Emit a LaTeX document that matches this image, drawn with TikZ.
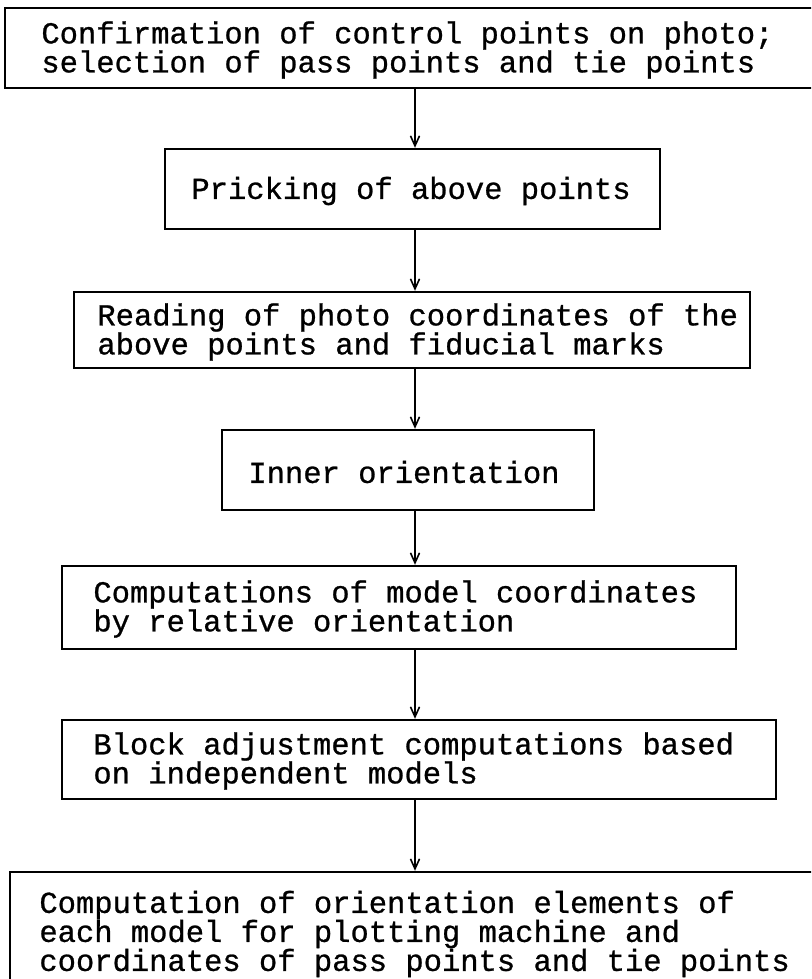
\documentclass[tikz,border=0pt]{standalone}
\usepackage{fontspec}
\setmainfont{Liberation Mono}[FakeBold=0.8]
\usetikzlibrary{arrows.meta}
\tikzset{
  box/.style={draw=black, line width=1.2pt, rectangle, inner sep=0pt, fill=none},
  txt/.style={inner sep=0pt, align=left, anchor=west, font=\fontsize{15.25pt}{14.5pt}\selectfont},
  arr/.style={draw=black, line width=0.8pt, -{Straight Barb[length=5pt,width=4.5pt,line width=0.8pt]}}
}
\begin{document}
\begin{tikzpicture}[x=0.5pt,y=-0.5pt]
\useasboundingbox (0,0) rectangle (811,979);
\clip (0,0) rectangle (811,979);
% boxes
\node[box, minimum width=412.5pt, minimum height=40pt] (b1) at (417.5,48) {};
\node[box, minimum width=247.5pt, minimum height=40pt] (b2) at (412.5,189) {};
\node[box, minimum width=338pt, minimum height=38pt] (b3) at (412,330) {};
\node[box, minimum width=186pt, minimum height=40pt] (b4) at (408,470) {};
\node[box, minimum width=337pt, minimum height=41.5pt] (b5) at (399,607.5) {};
\node[box, minimum width=357pt, minimum height=39.5pt] (b6) at (419,759.5) {};
\node[box, minimum width=410pt, minimum height=64pt] (b7) at (420,936) {};
% texts
\node[txt] (t1) at (41,50) {Confirmation of control points on photo;\\selection of pass points and tie points};
\node[txt] (t2) at (191,191) {Pricking of above points};
\node[txt] (t3) at (97,332) {Reading of photo coordinates of the\\above points and fiducial marks};
\node[txt] (t4) at (248,472) {Inner orientation};
\node[txt] (t5) at (93,609) {Computations of model coordinates\\by relative orientation};
\node[txt] (t6) at (93,761) {Block adjustment computations based\\on independent models};
\node[txt] (t7) at (39,934) {Computation of orientation elements of\\each model for plotting machine and\\coordinates of pass points and tie points};
% arrows
\coordinate (ax) at (415,0);
\draw[arr] (ax |- b1.south) -- (ax |- b2.north);
\draw[arr] (ax |- b2.south) -- (ax |- b3.north);
\draw[arr] (ax |- b3.south) -- (ax |- b4.north);
\draw[arr] (ax |- b4.south) -- (ax |- b5.north);
\draw[arr] (ax |- b5.south) -- (ax |- b6.north);
\draw[arr] (ax |- b6.south) -- (ax |- b7.north);
\end{tikzpicture}
\end{document}
